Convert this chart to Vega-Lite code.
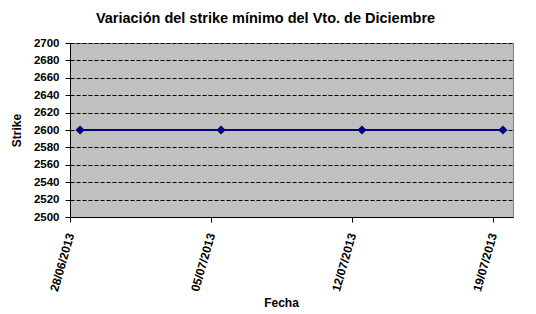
{
  "$schema": "https://vega.github.io/schema/vega-lite/v6.json",
  "width": 443,
  "height": 174,
  "autosize": "none",
  "padding": {"left": 70, "top": 43, "right": 23, "bottom": 97},
  "background": "white",
  "title": {
    "text": "Variación del strike mínimo del Vto. de Diciembre",
    "font": "Liberation Sans",
    "fontSize": 14.5,
    "fontWeight": "bold",
    "color": "black",
    "anchor": "middle",
    "dx": -26,
    "offset": 11
  },
  "data": {
    "values": [
      {"Fecha": "2013/06/28", "Strike": 2600},
      {"Fecha": "2013/07/05", "Strike": 2600},
      {"Fecha": "2013/07/12", "Strike": 2600},
      {"Fecha": "2013/07/19", "Strike": 2600}
    ]
  },
  "mark": {
    "type": "line",
    "color": "#000080",
    "strokeWidth": 2,
    "point": {"shape": "diamond", "size": 85, "filled": true, "color": "#000080"}
  },
  "encoding": {
    "x": {
      "field": "Fecha",
      "type": "temporal",
      "timeUnit": "yearmonthdate",
      "bandPosition": 0.5,
      "title": "Fecha",
      "scale": {
        "domain": [
          {"year": 2013, "month": 6, "date": 28},
          {"year": 2013, "month": 7, "date": 20}
        ]
      },
      "axis": {
        "values": [
          {"year": 2013, "month": 6, "date": 28},
          {"year": 2013, "month": 7, "date": 5},
          {"year": 2013, "month": 7, "date": 12},
          {"year": 2013, "month": 7, "date": 19}
        ],
        "format": "%d/%m/%Y",
        "labelAngle": -74,
        "labelFont": "Liberation Sans",
        "labelFontSize": 12,
        "labelFontWeight": "bold",
        "labelColor": "black",
        "labelPadding": 11,
        "labelFlush": false,
        "labelOverlap": false,
        "tickColor": "black",
        "tickSize": 5,
        "domainColor": "black",
        "grid": false,
        "titleFont": "Liberation Sans",
        "titleFontSize": 12,
        "titleFontWeight": "bold",
        "titleColor": "black",
        "titlePadding": 5,
        "titleX": 211
      }
    },
    "y": {
      "field": "Strike",
      "type": "quantitative",
      "title": "Strike",
      "scale": {"domain": [2500, 2700], "nice": false, "zero": false},
      "axis": {
        "values": [2500, 2520, 2540, 2560, 2580, 2600, 2620, 2640, 2660, 2680, 2700],
        "format": "d",
        "labelFont": "Liberation Sans",
        "labelFontSize": 11.5,
        "labelFontWeight": "bold",
        "labelColor": "black",
        "labelPadding": 6,
        "tickColor": "black",
        "tickSize": 5,
        "domainColor": "black",
        "grid": true,
        "gridColor": "black",
        "gridDash": [4, 2],
        "gridWidth": 1,
        "titleFont": "Liberation Sans",
        "titleFontSize": 12,
        "titleFontWeight": "bold",
        "titleColor": "black",
        "titlePadding": 10
      }
    }
  },
  "config": {
    "view": {"fill": "#C0C0C0", "stroke": "#808080", "strokeWidth": 1}
  }
}
